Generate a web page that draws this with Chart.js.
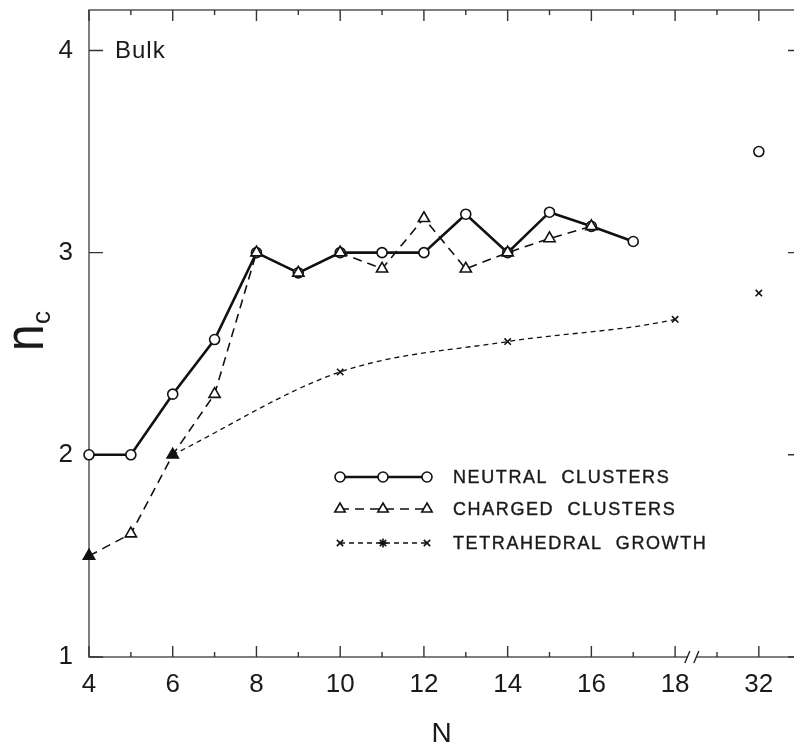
<!DOCTYPE html>
<html><head><meta charset="utf-8">
<script src="https://cdn.jsdelivr.net/npm/chart.js@4"></script>
<style>html,body{margin:0;padding:0;background:#fff}canvas{display:block}</style>
</head><body>
<canvas id="c" width="794" height="751"></canvas>
<script>
// ---- data ----
const NEUTRAL_N  = [4, 5, 6, 7, 8, 9, 10, 11, 12, 13, 14, 15, 16, 17, 32];
const NEUTRAL_NC = [2.0, 2.0, 2.30, 2.57, 3.0, 2.90, 3.0, 3.0, 3.0, 3.19, 3.0, 3.20, 3.13, 3.055, 3.50];
const CHARGED_N  = [4, 5, 6, 7, 8, 9, 10, 11, 12, 13, 14, 15, 16];
const CHARGED_NC = [1.5, 1.61, 2.0, 2.30, 3.0, 2.90, 3.0, 2.92, 3.17, 2.92, 3.0, 3.07, 3.13];
const TETRA_N    = [6, 10, 14, 18, 32];
const TETRA_NC   = [2.0, 2.41, 2.56, 2.67, 2.80];
const SHARED_N   = [4, 6];            // charged == tetrahedral (filled triangles)
const X_TICKS_N  = [4,5,6,7,8,9,10,11,12,13,14,15,16,17,18,31,32];
const X_LABEL_N  = [4, 6, 8, 10, 12, 14, 16, 18, 32];
const Y_TICKS    = [1, 2, 3, 4];
const LABELS     = ['NEUTRAL  CLUSTERS', 'CHARGED  CLUSTERS', 'TETRAHEDRAL  GROWTH'];
const BULK_LABEL = 'Bulk';
const BULK_VALUE = 4;

// axis break: N above 18 is shifted so that 32 sits two units after 18
const BREAK_AFTER = 18, BREAK_TO = 32, BREAK_GAP = 2;
const xPos = n => n > BREAK_AFTER ? n - (BREAK_TO - BREAK_AFTER - BREAK_GAP) : n;
const hideBreak = c => c.p1.parsed.x > xPos(BREAK_AFTER) ? 'rgba(0,0,0,0)' : undefined;

const FONT = "'Liberation Sans', Arial, sans-serif";
const INK = '#1a1a1a';

const framePlugin = {
  id: 'frame',
  beforeDatasetsDraw(chart) {
    const {ctx, chartArea: {left, right, top, bottom}, scales: {x, y}} = chart;
    ctx.save();
    ctx.strokeStyle = '#555'; ctx.lineWidth = 1.5;
    ctx.beginPath();
    ctx.moveTo(right + 2, top); ctx.lineTo(left, top); ctx.lineTo(left, bottom); ctx.lineTo(right + 2, bottom);
    ctx.stroke();
    ctx.strokeStyle = '#333'; ctx.lineWidth = 1.4;
    ctx.beginPath();
    X_TICKS_N.forEach(n => {
      const px = x.getPixelForValue(xPos(n));
      const len = X_LABEL_N.includes(n) ? 11 : 5;
      ctx.moveTo(px, bottom); ctx.lineTo(px, bottom - len);
      ctx.moveTo(px, top); ctx.lineTo(px, top + len);
    });
    Y_TICKS.forEach(v => {
      const py = y.getPixelForValue(v);
      ctx.moveTo(left, py); ctx.lineTo(left + 14, py);
      ctx.moveTo(right, py); ctx.lineTo(right - 6, py);
    });
    ctx.stroke();
    // break marks
    const bx = x.getPixelForValue(xPos(BREAK_AFTER) + 0.4);
    ctx.fillStyle = '#fff';
    ctx.fillRect(bx - 4, bottom - 3, 9, 6);
    ctx.strokeStyle = '#222'; ctx.lineWidth = 1.4;
    ctx.beginPath();
    [-4.5, 4.5].forEach(d => { ctx.moveTo(bx + d - 2.5, bottom + 6); ctx.lineTo(bx + d + 2.5, bottom - 6); });
    ctx.stroke();
    ctx.restore();
  },
  afterDraw(chart) {
    const {ctx, chartArea: {left}, scales: {y}} = chart;
    ctx.save();
    // y title n_c
    ctx.fillStyle = INK;
    ctx.translate(43, 351);
    ctx.rotate(-Math.PI / 2);
    ctx.save();
    ctx.scale(0.85, 1);
    ctx.font = `56px ${FONT}`;
    ctx.textBaseline = 'alphabetic'; ctx.textAlign = 'left';
    ctx.fillText('n', 0, 0);
    ctx.restore();
    ctx.font = `26px ${FONT}`;
    ctx.fillText('c', 27, 7);
    ctx.restore();

    // Bulk label
    ctx.save();
    ctx.fillStyle = INK;
    ctx.font = `24px ${FONT}`;
    ctx.letterSpacing = '1px';
    ctx.textBaseline = 'middle';
    ctx.fillText(BULK_LABEL, left + 26, y.getPixelForValue(BULK_VALUE) + 1);
    ctx.restore();

    // legend
    const rowsY = [477, 509, 543];
    const xs = [340, 383, 427];
    chart.data.datasets.forEach((ds, i) => {
      const yy = rowsY[i];
      ctx.save();
      ctx.strokeStyle = ds.borderColor; ctx.lineWidth = ds.borderWidth;
      ctx.setLineDash(ds.borderDash || []);
      ctx.beginPath(); ctx.moveTo(xs[0], yy); ctx.lineTo(xs[2], yy); ctx.stroke();
      ctx.setLineDash([]);
      xs.forEach((px, k) => {
        const style = (i === 2 && k === 1) ? 'star' : ds.pointStyle;
        ctx.fillStyle = '#fff';
        ctx.strokeStyle = ds.pointBorderColor;
        ctx.lineWidth = ds.pointBorderWidth;
        Chart.helpers.drawPoint(ctx, {pointStyle: style, radius: ds.legendRadius, borderWidth: ds.pointBorderWidth, rotation: 0}, px, yy);
      });
      ctx.fillStyle = INK;
      ctx.font = `18px ${FONT}`;
      ctx.letterSpacing = '1.6px';
      ctx.textBaseline = 'middle';
      ctx.strokeStyle = INK; ctx.lineWidth = 0.4;
      ctx.fillText(ds.label, 453, yy + 1);
      ctx.strokeText(ds.label, 453, yy + 1);
      ctx.restore();
    });
  }
};

const noPad = s => { s.paddingTop = 0; s.paddingBottom = 0; s.paddingLeft = 0; s.paddingRight = 0; };

new Chart(document.getElementById('c'), {
  type: 'line',
  data: {
    datasets: [
      {
        label: LABELS[0],
        data: NEUTRAL_N.map((n, i) => ({x: xPos(n), y: NEUTRAL_NC[i]})),
        borderColor: '#111', borderWidth: 2.6,
        pointStyle: 'circle', pointRadius: 5, legendRadius: 5,
        pointBorderWidth: 1.6, pointBorderColor: '#111', pointBackgroundColor: '#fff',
        segment: {borderColor: hideBreak}, clip: false, order: 1
      },
      {
        label: LABELS[1],
        data: CHARGED_N.map((n, i) => ({x: xPos(n), y: CHARGED_NC[i]})),
        borderColor: '#111', borderWidth: 1.6, borderDash: [9, 6],
        pointStyle: 'triangle', pointRadius: 6.5, legendRadius: 6,
        pointBorderWidth: 1.6, pointBorderColor: '#111',
        pointBackgroundColor: CHARGED_N.map(n => SHARED_N.includes(n) ? '#111' : '#fff'),
        segment: {borderColor: hideBreak}, clip: false, order: 0
      },
      {
        label: LABELS[2],
        data: TETRA_N.map((n, i) => ({x: xPos(n), y: TETRA_NC[i]})),
        borderColor: '#111', borderWidth: 1.3, borderDash: [5, 4],
        cubicInterpolationMode: 'monotone',
        pointStyle: 'crossRot', legendRadius: 4.5,
        pointRadius: TETRA_N.map(n => SHARED_N.includes(n) ? 0 : 4.5),
        pointBorderWidth: 1.6, pointBorderColor: '#111', pointBackgroundColor: '#fff',
        segment: {borderColor: hideBreak}, clip: false, order: 2
      }
    ]
  },
  options: {
    responsive: false, animation: false, devicePixelRatio: 1,
    layout: {autoPadding: false, padding: {top: 10, right: 0, left: 0, bottom: 0}},
    plugins: {legend: {display: false}, tooltip: {enabled: false}},
    scales: {
      x: {
        type: 'linear', min: xPos(4), max: 20.84,
        grid: {display: false, drawTicks: false}, border: {display: false},
        afterBuildTicks: s => { s.ticks = X_TICKS_N.map(n => ({value: xPos(n)})); },
        ticks: {
          autoSkip: false, maxRotation: 0, padding: 12, color: INK,
          font: {family: FONT, size: 26},
          callback: (v, i) => X_LABEL_N.includes(X_TICKS_N[i]) ? String(X_TICKS_N[i]) : ''
        },
        title: {display: true, text: 'N', color: INK, font: {family: FONT, size: 28}, padding: {top: 0, bottom: 0}},
        afterFit: s => { s.height = 94; noPad(s); }
      },
      y: {
        type: 'linear', min: 1, max: 4.2,
        grid: {display: false, drawTicks: false}, border: {display: false},
        afterBuildTicks: s => { s.ticks = Y_TICKS.map(v => ({value: v})); },
        ticks: {padding: 16, color: INK, font: {family: FONT, size: 26}, callback: v => String(v)},
        afterFit: s => { s.width = 89; noPad(s); }
      }
    }
  },
  plugins: [framePlugin]
});
</script>
</body></html>
